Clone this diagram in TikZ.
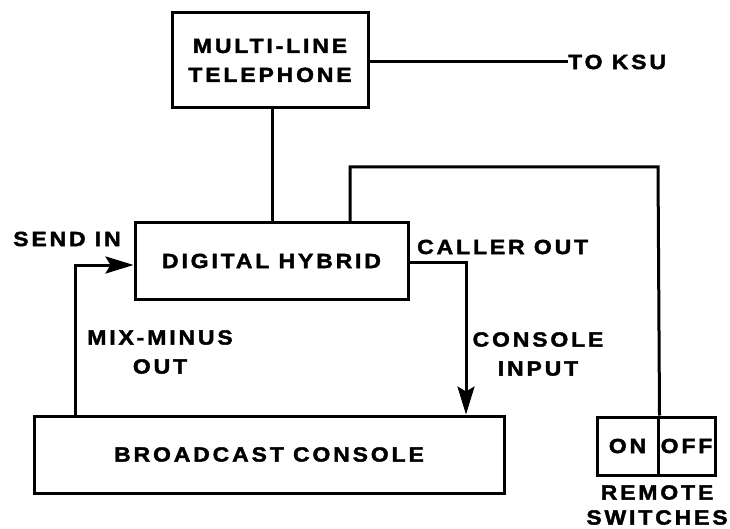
\documentclass[tikz,border=0pt]{standalone}
\usepackage{fontspec}
\newfontfamily\labfont[LetterSpace=14,FakeStretch=1.12,FakeBold=2]{Liberation Sans Bold}
\usetikzlibrary{arrows.meta}
\begin{document}
\begin{tikzpicture}[x=1pt,y=-1pt,
  every node/.style={font=\labfont\fontsize{20.5}{29}\selectfont, inner sep=0pt},
  box/.style={draw, line width=3pt, align=center},
  wire/.style={line width=3pt},
  arr/.style={wire, -{Stealth[length=28pt,width=17pt,inset=5pt]}},
  lab/.style={align=center}]
\useasboundingbox (0,0) rectangle (730,529);
% boxes
\node[box, minimum width=196pt, minimum height=95pt] (tel) at (270,60.5) {MULTI-LINE\\TELEPHONE};
\node[box, minimum width=273pt, minimum height=76pt] (hyb) at (271.5,261) {DIGITAL HYBRID};
\node[box, minimum width=470pt, minimum height=77pt] (con) at (269,454.5) {BROADCAST CONSOLE};
\node[box, minimum width=61pt, minimum height=58pt] (on) at (627.5,446) {ON};
\node[box, minimum width=57pt, minimum height=58pt] (off) at (686.5,446) {OFF};
% labels
\node[anchor=west] (ksu) at (568,62) {TO KSU};
\node (sendin) at (67,239) {SEND IN};
\node[anchor=west] (callerout) at (417,247) {CALLER OUT};
\node[lab] (mixminus) at (160,352) {MIX-MINUS\\OUT};
\node[lab, font=\labfont\fontsize{20.5}{25}\selectfont] (remote) at (657,505) {REMOTE\\SWITCHES};
\node[lab] (consin) at (538,354) {CONSOLE\\INPUT};
% coordinates
\coordinate (r1) at (350,167);
\coordinate (r2) at (658,167);
\coordinate (m1) at (75,265);
\coordinate (c1) at (466,262);
% connectors
\draw[wire] (tel.east |- ksu.west) -- (ksu.west);
\draw[wire] (tel.south -| 272,0) -- (hyb.north -| 272,0);
\draw[wire] (hyb.north -| r1) -- (r1) -- (r2) -- (on.north east);
\draw[arr] (con.north -| m1) -- (m1) -- (hyb.west |- m1);
\draw[arr] (hyb.east |- c1) -- (c1) -- (con.north -| c1);
\end{tikzpicture}
\end{document}
